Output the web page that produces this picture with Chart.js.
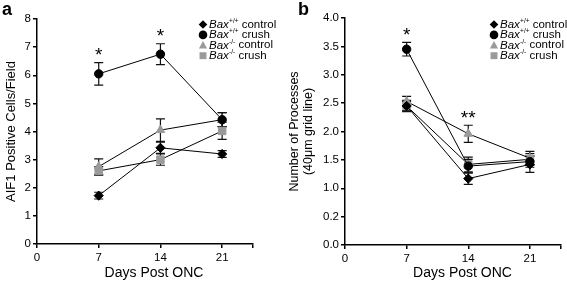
<!DOCTYPE html>
<html>
<head>
<meta charset="utf-8">
<script src="https://cdn.jsdelivr.net/npm/chart.js@4"></script>
<style>
  html, body { margin: 0; padding: 0; background: #fff; }
  #wrap { position: relative; width: 567px; height: 282px; }
  .panel { position: absolute; top: 0; }
  #pa { left: 0; width: 283px; height: 282px; }
  #pb { left: 283px; width: 284px; height: 282px; }
</style>
</head>
<body>
<div id="wrap">
  <div class="panel" id="pa"><canvas id="ca" width="283" height="282"></canvas></div>
  <div class="panel" id="pb"><canvas id="cb" width="284" height="282"></canvas></div>
</div>
<script>
// ---------- DATA ----------
const days = [7, 14, 21];
const xTickValues = [0, 7, 14, 21, 24.5];
const xTickLabels = ['0', '7', '14', '21', ''];

const seriesNames = ['control', 'crush', 'control', 'crush'];
const genotypeSup = ['+/+', '+/+', '-/-', '-/-'];

// Panel a: AIF1 positive cells / field
const aWtControl = [1.72, 3.42, 3.2];
const aWtControlErr = [0.12, 0.2, 0.12];
const aWtCrush = [6.05, 6.75, 4.42];
const aWtCrushErr = [0.4, 0.37, 0.25];
const aKoControl = [2.75, 4.05, 4.42];
const aKoControlErr = [0.28, 0.4, 0.25];
const aKoCrush = [2.6, 3.0, 4.02];
const aKoCrushErr = [0.15, 0.2, 0.3];
const yTickValuesA = [0, 1, 2, 3, 4, 5, 6, 7, 8];
const yTickLabelsA = ['0', '1', '2', '3', '4', '5', '6', '7', '8'];
const starsA = [{ x: 7, y: 6.85, text: '*' }, { x: 14, y: 7.5, text: '*' }];

// Panel b: number of processes (40um grid line)
const bWtControl = [2.45, 1.17, 1.42];
const bWtControlErr = [0.08, 0.1, 0.14];
const bWtCrush = [3.45, 1.39, 1.47];
const bWtCrushErr = [0.12, 0.12, 0.1];
const bKoControl = [2.53, 1.96, 1.53];
const bKoControlErr = [0.09, 0.15, 0.12];
const bKoCrush = [2.45, 1.42, 1.51];
const bKoCrushErr = [0.1, 0.13, 0.1];
const yTickValuesB = [0, 0.5, 1, 1.5, 2, 2.5, 3, 3.5, 4];
const yTickLabelsB = ['0.0', '0.2', '1.0', '1.5', '2.0', '2.5', '3.0', '3.5', '4.0'];
const starsB = [{ x: 7, y: 3.75, text: '*' }, { x: 14, y: 2.3, text: '**' }];

// ---------- STYLE ----------
const FONT = '"Liberation Sans", Arial, sans-serif';
const BLACK = '#000000';
const GREY = '#9a9a9a';
const markerStyles = [
  { pointStyle: 'rectRot', radius: 4.6, color: BLACK },
  { pointStyle: 'circle', radius: 4.2, color: BLACK },
  { pointStyle: 'triangle', radius: 5, color: GREY },
  { pointStyle: 'rect', radius: 5.3, color: GREY }
];

function mkDatasets(vals, errs) {
  return vals.map((v, i) => ({
    label: 'Bax' + genotypeSup[i] + ' ' + seriesNames[i],
    data: days.map((d, j) => ({ x: d, y: v[j] })),
    errors: errs[i],
    borderColor: BLACK,
    borderWidth: 1,
    pointStyle: markerStyles[i].pointStyle,
    pointRadius: markerStyles[i].radius,
    pointBackgroundColor: markerStyles[i].color,
    pointBorderColor: markerStyles[i].color,
    pointBorderWidth: 1,
    fill: false,
    tension: 0,
    order: i
  }));
}

function drawMarker(ctx, style, x, y, r, color) {
  ctx.save();
  ctx.fillStyle = color;
  ctx.beginPath();
  if (style === 'rectRot') {
    ctx.moveTo(x, y - r); ctx.lineTo(x + r, y); ctx.lineTo(x, y + r); ctx.lineTo(x - r, y); ctx.closePath();
  } else if (style === 'circle') {
    ctx.arc(x, y, r, 0, Math.PI * 2);
  } else if (style === 'triangle') {
    ctx.moveTo(x, y - r); ctx.lineTo(x + r * 0.95, y + r * 0.75); ctx.lineTo(x - r * 0.95, y + r * 0.75); ctx.closePath();
  } else {
    ctx.rect(x - r * 0.8, y - r * 0.8, r * 1.6, r * 1.6);
  }
  ctx.fill();
  ctx.restore();
}

const panelPlugin = {
  id: 'panelExtras',
  beforeDatasetsDraw(chart) {
    const ctx = chart.ctx;
    const xs = chart.scales.x, ys = chart.scales.y;
    ctx.save();
    ctx.strokeStyle = '#111';
    ctx.lineWidth = 1.2;
    chart.data.datasets.forEach(ds => {
      ds.data.forEach((p, j) => {
        const e = ds.errors[j];
        const px = xs.getPixelForValue(p.x);
        const y1 = ys.getPixelForValue(p.y + e);
        const y2 = ys.getPixelForValue(p.y - e);
        ctx.beginPath();
        ctx.moveTo(px, y1); ctx.lineTo(px, y2);
        ctx.moveTo(px - 4.5, y1); ctx.lineTo(px + 4.5, y1);
        ctx.moveTo(px - 4.5, y2); ctx.lineTo(px + 4.5, y2);
        ctx.stroke();
      });
    });
    ctx.restore();
  },
  afterDraw(chart, args, opts) {
    const ctx = chart.ctx;
    const xs = chart.scales.x, ys = chart.scales.y;
    ctx.save();
    // stars
    ctx.fillStyle = BLACK;
    ctx.font = '19px ' + FONT;
    ctx.textAlign = 'center';
    ctx.textBaseline = 'middle';
    opts.stars.forEach(s => {
      ctx.fillText(s.text, xs.getPixelForValue(s.x), ys.getPixelForValue(s.y) + 4);
    });
    // x title
    ctx.font = '14px ' + FONT;
    ctx.textBaseline = 'middle';
    ctx.fillText(opts.xTitle, opts.xTitleX, opts.xTitleY);
    // panel letter
    ctx.font = 'bold 18px ' + FONT;
    ctx.textAlign = 'left';
    ctx.fillText(opts.letter, opts.letterX, opts.letterY);
    // legend
    ctx.textBaseline = 'middle';
    markerStyles.forEach((m, i) => {
      const y = opts.legendY + i * 10.4;
      drawMarker(ctx, m.pointStyle, opts.legendX, y, 4.3, m.color);
      let tx = opts.legendX + 6;
      ctx.fillStyle = BLACK;
      ctx.font = 'italic 11.5px ' + FONT;
      ctx.fillText('Bax', tx, y);
      tx += ctx.measureText('Bax').width + 0.3;
      ctx.font = '6.5px ' + FONT;
      ctx.fillText(genotypeSup[i], tx, y - 3.5);
      tx += ctx.measureText(genotypeSup[i]).width;
      ctx.font = '11.5px ' + FONT;
      ctx.fillText(' ' + seriesNames[i], tx, y);
    });
    ctx.restore();
  }
};

function makeChart(canvasId, datasets, cfg) {
  return new Chart(document.getElementById(canvasId), {
    type: 'line',
    data: { datasets: datasets },
    plugins: [panelPlugin],
    options: {
      responsive: false,
      animation: false,
      events: [],
      layout: { padding: { top: cfg.top, right: cfg.right, left: 0, bottom: 0 } },
      plugins: {
        legend: { display: false },
        tooltip: { enabled: false },
        panelExtras: cfg.extras
      },
      scales: {
        x: {
          type: 'linear',
          min: 0, max: 24.5,
          afterBuildTicks: s => { s.ticks = xTickValues.map(v => ({ value: v })); },
          afterFit: s => { s.height = cfg.bottom; },
          ticks: {
            color: BLACK, padding: 3, maxRotation: 0, autoSkip: false,
            font: { family: FONT, size: 11.5 },
            callback: (v) => xTickLabels[xTickValues.indexOf(v)]
          },
          grid: { display: true, drawOnChartArea: false, drawTicks: true, tickLength: 4, color: BLACK, lineWidth: 1.5 },
          border: { display: true, color: BLACK, width: 1.5 }
        },
        y: {
          type: 'linear',
          min: cfg.yTickValues[0], max: cfg.yTickValues[cfg.yTickValues.length - 1],
          afterBuildTicks: s => { s.ticks = cfg.yTickValues.map(v => ({ value: v })); },
          afterFit: s => { s.width = cfg.left; },
          ticks: {
            color: BLACK, padding: 2, autoSkip: false,
            font: { family: FONT, size: 11.5 },
            callback: (v) => cfg.yTickLabels[cfg.yTickValues.indexOf(v)]
          },
          title: {
            display: true, text: cfg.yTitle, color: BLACK,
            font: { family: FONT, size: cfg.yTitleSize, lineHeight: 1.1 },
            padding: { top: cfg.yTitlePad, bottom: 0 }
          },
          grid: { display: true, drawOnChartArea: false, drawTicks: true, tickLength: 4, color: BLACK, lineWidth: 1.5 },
          border: { display: true, color: BLACK, width: 1.5 }
        }
      }
    }
  });
}

makeChart('ca',
  mkDatasets([aWtControl, aWtCrush, aKoControl, aKoCrush], [aWtControlErr, aWtCrushErr, aKoControlErr, aKoCrushErr]),
  {
    top: 19, right: 30, bottom: 38, left: 37,
    yTickValues: yTickValuesA, yTickLabels: yTickLabelsA,
    yTitle: 'AIF1 Positive Cells/Field', yTitleSize: 13, yTitlePad: 4,
    extras: {
      stars: starsA, xTitle: 'Days Post ONC', xTitleX: 154, xTitleY: 273,
      letter: 'a', letterX: 2, letterY: 10,
      legendX: 203, legendY: 24.5
    }
  });

makeChart('cb',
  mkDatasets([bWtControl, bWtCrush, bKoControl, bKoCrush], [bWtControlErr, bWtCrushErr, bKoControlErr, bKoCrushErr]),
  {
    top: 18, right: 1, bottom: 37, left: 62,
    yTickValues: yTickValuesB, yTickLabels: yTickLabelsB,
    yTitle: ['Number of Processes', '(40μm grid line)'], yTitleSize: 12.5, yTitlePad: 5,
    extras: {
      stars: starsB, xTitle: 'Days Post ONC', xTitleX: 179.5, xTitleY: 273,
      letter: 'b', letterX: 15, letterY: 10,
      legendX: 211, legendY: 24.5
    }
  });
</script>
</body>
</html>
